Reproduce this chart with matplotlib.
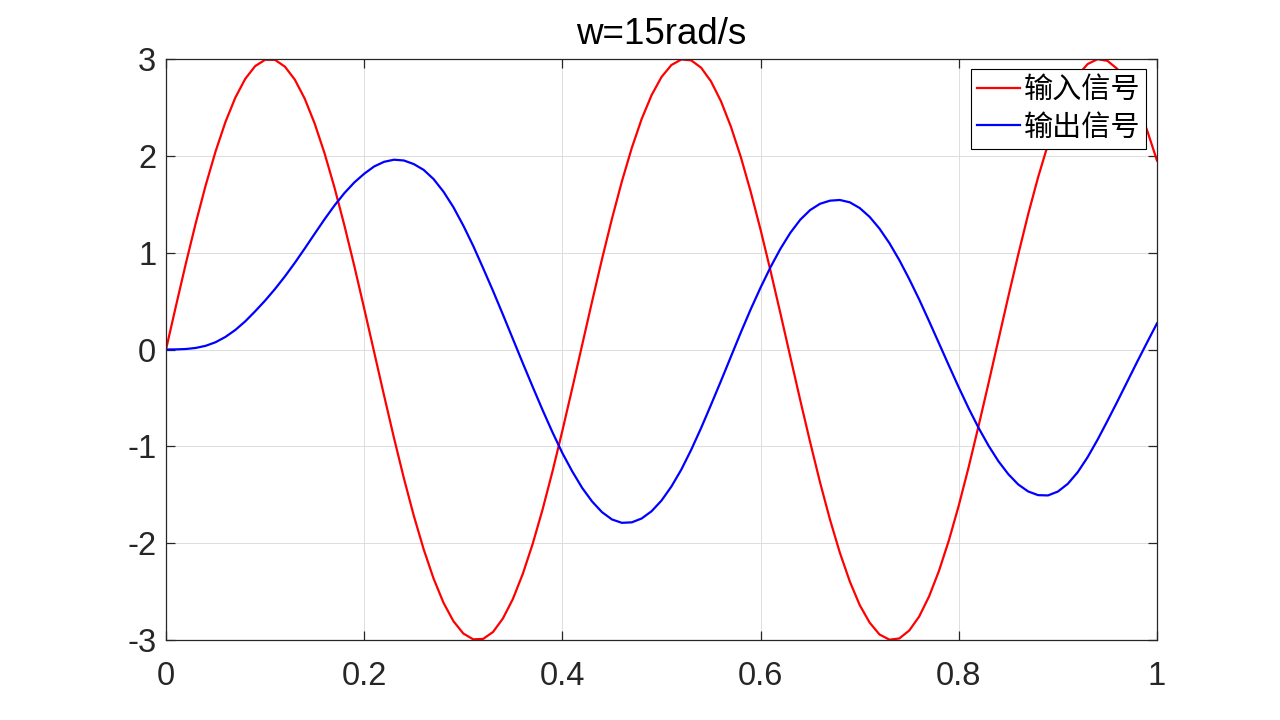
import matplotlib
matplotlib.use("Agg")
import matplotlib.pyplot as plt

# ---- data ----
t = [i / 100 for i in range(101)]

input_signal = [
    0.000, 0.448, 0.887, 1.305, 1.694, 2.045, 2.350, 2.602, 2.796, 2.927,
    2.992, 2.991, 2.921, 2.787, 2.590, 2.334, 2.026, 1.673, 1.282, 0.863,
    0.423, -0.025, -0.473, -0.911, -1.328, -1.715, -2.063, -2.365, -2.615, -2.805,
    -2.933, -2.993, -2.989, -2.917, -2.777, -2.577, -2.318, -2.008, -1.652, -1.259,
    -0.838, -0.398, 0.050, 0.498, 0.935, 1.350, 1.735, 2.081, 2.381, 2.627,
    2.814, 2.938, 2.995, 2.986, 2.910, 2.768, 2.564, 2.302, 1.989, 1.630,
    1.236, 0.813, 0.373, -0.076, -0.523, -0.957, -1.373, -1.756, -2.099, -2.395,
    -2.639, -2.820, -2.943, -2.997, -2.984, -2.902, -2.758, -2.550, -2.286, -1.971,
    -1.610, -1.212, -0.787, -0.348, 0.101, 0.548, 0.982, 1.397, 1.778, 2.119,
    2.411, 2.652, 2.831, 2.948, 2.998, 2.981, 2.897, 2.748, 2.534, 2.264,
    1.951,
]

output_signal = [
    0.000, 0.001, 0.005, 0.016, 0.038, 0.075, 0.130, 0.202, 0.291, 0.395,
    0.505, 0.625, 0.755, 0.895, 1.043, 1.195, 1.345, 1.487, 1.615, 1.725,
    1.815, 1.890, 1.938, 1.960, 1.952, 1.915, 1.855, 1.760, 1.630, 1.470,
    1.280, 1.070, 0.840, 0.605, 0.360, 0.110, -0.140, -0.385, -0.625, -0.855,
    -1.070, -1.260, -1.430, -1.570, -1.680, -1.755, -1.790, -1.785, -1.745, -1.670,
    -1.560, -1.415, -1.240, -1.035, -0.810, -0.570, -0.325, -0.075, 0.175, 0.415,
    0.640, 0.850, 1.040, 1.205, 1.340, 1.440, 1.505, 1.537, 1.544, 1.520,
    1.461, 1.370, 1.248, 1.098, 0.923, 0.727, 0.517, 0.293, 0.064, -0.166,
    -0.392, -0.609, -0.810, -0.993, -1.154, -1.288, -1.394, -1.466, -1.504, -1.507,
    -1.467, -1.387, -1.267, -1.112, -0.932, -0.737, -0.537, -0.332, -0.127, 0.073,
    0.270,
]

labels = ["输入信号", "输出信号"]
title_text = "w=15rad/s"
x_ticks = [0, 0.2, 0.4, 0.6, 0.8, 1]
x_tick_labels = ["0", "0.2", "0.4", "0.6", "0.8", "1"]
y_ticks = [-3, -2, -1, 0, 1, 2, 3]
y_tick_labels = ["-3", "-2", "-1", "0", "1", "2", "3"]

# ---- figure ----
plt.rcParams['font.family'] = ['Liberation Sans', 'Noto Sans CJK SC', 'DejaVu Sans']
fig = plt.figure(figsize=(12.8, 7.2), dpi=100, facecolor='white')
ax = fig.add_axes([166 / 1280, 80 / 720, 991 / 1280, 581 / 720])

ax.plot(t, input_signal, color='#ff0000', lw=1.6, label=labels[0],
        solid_joinstyle='round')
ax.plot(t, output_signal, color='#0000ff', lw=1.6, label=labels[1],
        solid_joinstyle='round')

ax.set_xlim(0, 1)
ax.set_ylim(-3, 3)
ax.set_xticks(x_ticks)
ax.set_xticklabels(x_tick_labels)
ax.set_yticks(y_ticks)
ax.set_yticklabels(y_tick_labels)

axcol = '#262626'
ax.grid(True, color='#dddddd', lw=0.7)
ax.set_axisbelow(True)
for s in ax.spines.values():
    s.set_color(axcol)
    s.set_linewidth(0.9)
ax.tick_params(direction='in', length=6.5, width=0.9, color=axcol,
               labelcolor=axcol, labelsize=23.5, top=True, right=True)
ax.tick_params(axis='x', pad=15)
ax.tick_params(axis='y', pad=7)

ax.set_title(title_text, fontsize=26.5, color='black', pad=11)

leg = ax.legend(loc='upper right', bbox_to_anchor=(1 - 11 / 991, 1 - 10 / 581),
                borderaxespad=0, fancybox=False, framealpha=1,
                edgecolor='black',
                prop={'family': ['Noto Sans CJK SC', 'DejaVu Sans'], 'size': 21},
                handlelength=1.45, handletextpad=0.14, borderpad=0.2,
                labelspacing=0.27)
leg.get_frame().set_linewidth(0.8)

fig.savefig('out.png', dpi=100, facecolor='white')
